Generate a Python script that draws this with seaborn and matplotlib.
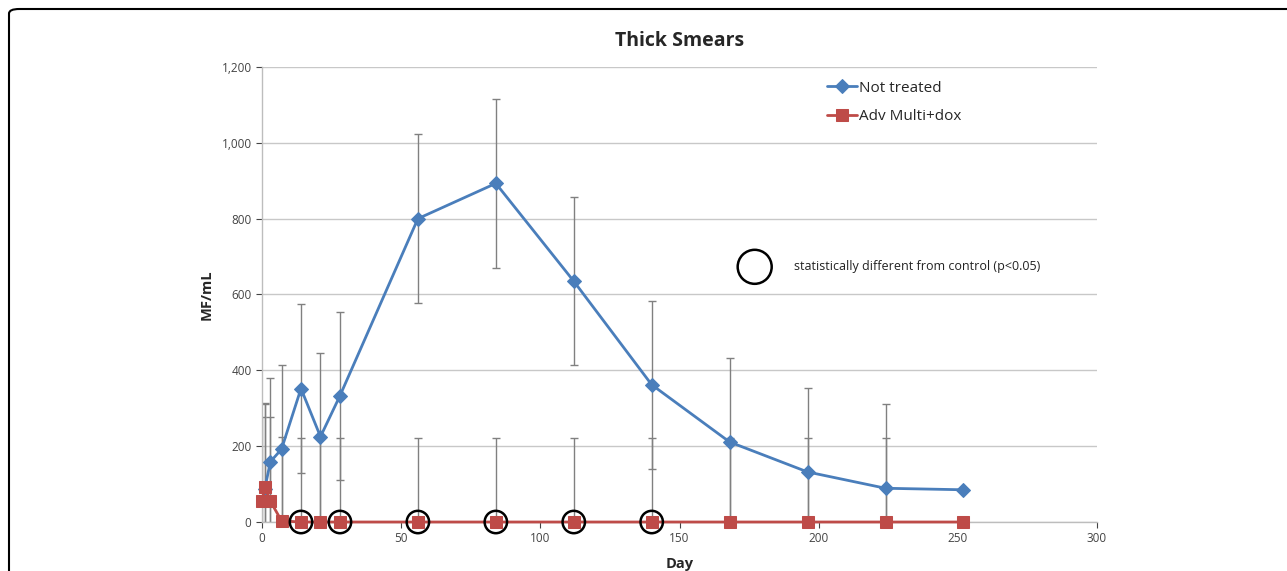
import numpy as np
import pandas as pd
import matplotlib.pyplot as plt
import matplotlib.ticker as mticker
from matplotlib.patches import FancyBboxPatch
import seaborn as sns


# Values
days_untreated = [1, 3, 7, 14, 21, 28, 56, 84, 112, 140, 168, 196, 224, 252]
mf_untreated = [88, 159, 192, 352, 225, 333, 800, 893, 635, 362, 211, 132, 89, 85]
err_untreated = [222, 222, 222, 222, 222, 222, 222, 222, 222, 222, 222, 222, 222, 0]

days_treated = [0, 1, 3, 7, 14, 21, 28, 56, 84, 112, 140, 168, 196, 224, 252]
mf_treated = [55, 93, 55, 3, 0, 0, 0, 0, 0, 0, 0, 0, 0, 0, 0]
err_treated = [222, 222, 222, 222, 222, 222, 222, 222, 222, 222, 222, 222, 222, 222, 0]

# days where treated group differs from control
sig_days = [14, 28, 56, 84, 112, 140]

x_ticks = [0, 50, 100, 150, 200, 250, 300]
y_ticks = [0, 200, 400, 600, 800, 1000, 1200]

BLUE = "#4A7EBB"
RED = "#BE4B48"
GREY = "#808080"

sns.set_style("white")
plt.rcParams["font.family"] = ["Open Sans", "DejaVu Sans"]

untreated = pd.DataFrame({"Day": days_untreated, "MF": mf_untreated, "err": err_untreated})
treated = pd.DataFrame({"Day": days_treated, "MF": mf_treated, "err": err_treated})

fig = plt.figure(figsize=(12.87, 5.71), dpi=100)
ax = fig.add_axes([0.2036, 0.0858, 0.8524 - 0.2036, 0.8827 - 0.0858])

# Error bars (fixed value, clipped at axis)
for df in [untreated, treated]:
    e = df[df["err"] > 0]
    ax.errorbar(e["Day"], e["MF"], yerr=e["err"], fmt="none", ecolor=GREY,
                elinewidth=1.0, capsize=3, capthick=1.0, zorder=2)

sns.lineplot(data=untreated, x="Day", y="MF", ax=ax, color=BLUE, marker="D",
             markersize=7, markeredgecolor=BLUE, linewidth=2, label="Not treated",
             zorder=3, clip_on=False)
sns.lineplot(data=treated, x="Day", y="MF", ax=ax, color=RED, marker="s",
             markersize=8, markeredgecolor=RED, linewidth=2, label="Adv Multi+dox",
             zorder=4, clip_on=False)

sig = treated[treated["Day"].isin(sig_days)]
ax.scatter(sig["Day"], sig["MF"], s=260, facecolors="none", edgecolors="black",
           linewidths=1.8, zorder=5, clip_on=False)

# key for the circles
ax.scatter([177], [673], s=600, facecolors="none", edgecolors="black", linewidths=1.8, zorder=5)
ax.text(191, 673, "statistically different from control (p<0.05)", fontsize=9,
        va="center", ha="left", color="#222222")

ax.set_xlim(0, 300)
ax.set_ylim(0, 1200)
ax.set_xticks(x_ticks)
ax.set_yticks(y_ticks)
ax.yaxis.set_major_formatter(mticker.FuncFormatter(lambda v, p: f"{v:,.0f}"))
ax.tick_params(axis="both", labelsize=8.5, colors="#444444", length=4, width=0.8,
               direction="out", bottom=True, left=True)
ax.grid(axis="y", color="#C8C8C8", linewidth=1.0)
ax.grid(axis="x", visible=False)
for side in ["top", "right"]:
    ax.spines[side].set_visible(False)
for side in ["left", "bottom"]:
    ax.spines[side].set_color("#BDBDBD")
    ax.spines[side].set_linewidth(1.0)

ax.set_xlabel("Day", fontsize=10.5, fontweight="bold", labelpad=8)
ax.set_ylabel("MF/mL", fontsize=10.5, fontweight="bold", labelpad=6)
ax.set_title("Thick Smears", fontsize=14, fontweight="bold", pad=15)

ax.legend(loc="upper left", bbox_to_anchor=(0.66, 1.0), frameon=False, fontsize=11,
          handlelength=2.0, handletextpad=0.1, labelspacing=0.9)

# rounded frame around the panel
frame = FancyBboxPatch((9 / 1287, -0.1), 1.2, 1.1 - 9 / 571,
                       boxstyle="round,pad=0,rounding_size=0.008",
                       transform=fig.transFigure, fill=False, edgecolor="black",
                       linewidth=1.5, clip_on=False)
fig.patches.append(frame)

plt.savefig("out.png", dpi=100)
